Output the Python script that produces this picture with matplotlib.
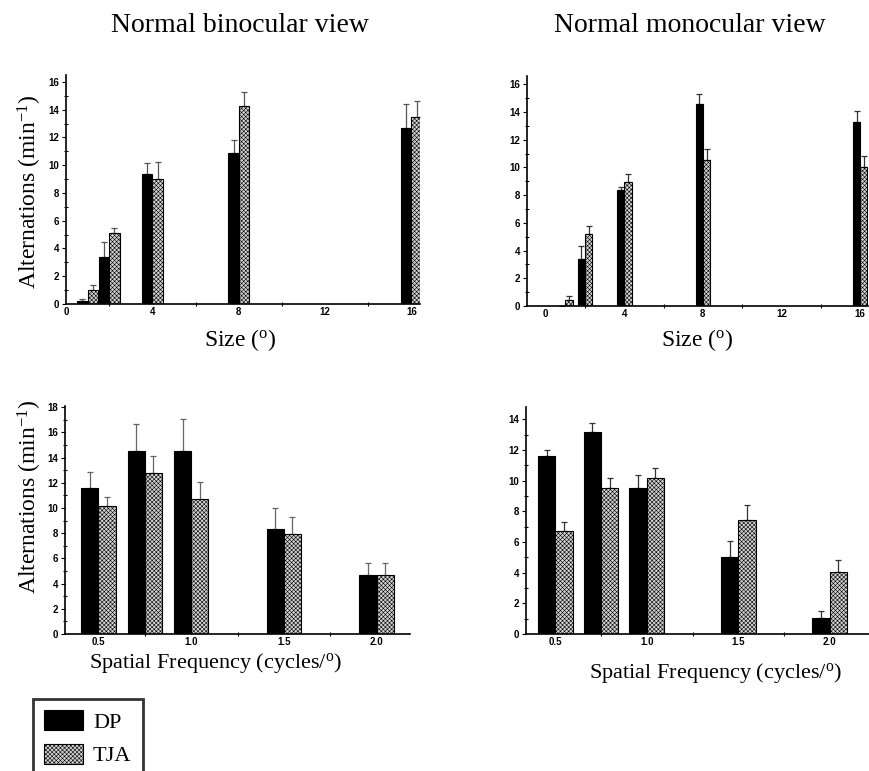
import matplotlib
matplotlib.use("Agg")
import matplotlib.pyplot as plt
from matplotlib.patches import Patch
from matplotlib.ticker import MultipleLocator, FormatStrFormatter

plt.rcParams["mathtext.default"] = "regular"
plt.rcParams["hatch.color"] = "#8c8c8c"
plt.rcParams["hatch.linewidth"] = 0.4

SERIF = "Liberation Serif"
SANS = "Liberation Sans"

# Datos: tamaño del estímulo (grados)
sizes = [1, 2, 4, 8, 16]
bino_dp = [0.2, 3.4, 9.35, 10.9, 12.65]
bino_dp_err = [0.18, 1.05, 0.8, 0.9, 1.75]
bino_tja = [1.0, 5.15, 9.0, 14.3, 13.45]
bino_tja_err = [0.35, 0.3, 1.2, 1.0, 1.2]

mono_dp = [0.0, 3.4, 8.4, 14.55, 13.3]
mono_dp_err = [0.0, 0.9, 0.2, 0.75, 0.8]
mono_tja = [0.4, 5.2, 8.95, 10.55, 10.05]
mono_tja_err = [0.3, 0.6, 0.6, 0.8, 0.75]

# Datos: frecuencia espacial (ciclos/grado)
freqs = [0.5, 0.75, 1.0, 1.5, 2.0]
bino_sf_dp = [11.6, 14.55, 14.55, 8.3, 4.7]
bino_sf_dp_err = [1.3, 2.15, 2.55, 1.7, 0.95]
bino_sf_tja = [10.15, 12.75, 10.7, 7.9, 4.65]
bino_sf_tja_err = [0.75, 1.35, 1.35, 1.35, 0.95]

mono_sf_dp = [11.6, 13.15, 9.55, 5.05, 1.05]
mono_sf_dp_err = [0.4, 0.6, 0.8, 1.0, 0.45]
mono_sf_tja = [6.7, 9.55, 10.15, 7.45, 4.05]
mono_sf_tja_err = [0.6, 0.65, 0.65, 0.95, 0.75]

DP_COLOR = "black"
TJA_COLOR = "#d2d2d2"
TJA_HATCH = "xxxxxxxx"


# Dibuja un par de barras DP / TJA con barras de error solo hacia arriba
def barras(ax, x, dp, dp_err, tja, tja_err, ancho, err_color):
    x_dp = [v - ancho / 2 for v in x]
    x_tja = [v + ancho / 2 for v in x]
    ax.bar(x_dp, dp, width=ancho, color=DP_COLOR, edgecolor="black", linewidth=0.8, zorder=2)
    ax.bar(x_tja, tja, width=ancho, color=TJA_COLOR, edgecolor="black", linewidth=0.8,
           hatch=TJA_HATCH, zorder=2)
    ax.errorbar(x_dp, dp, yerr=[[0] * len(dp), dp_err], fmt="none", ecolor=err_color,
                elinewidth=0.9, capsize=2.5, capthick=0.9, zorder=1)
    ax.errorbar(x_tja, tja, yerr=[[0] * len(tja), tja_err], fmt="none", ecolor=err_color,
                elinewidth=0.9, capsize=2.5, capthick=0.9, zorder=1)


# Estilo común de ejes
def estilo(ax, xmaj, xmin, ymaj, ymin):
    for lado in ["top", "right"]:
        ax.spines[lado].set_visible(False)
    for lado in ["left", "bottom"]:
        ax.spines[lado].set_linewidth(1.2)
    ax.xaxis.set_major_locator(MultipleLocator(xmaj))
    ax.xaxis.set_minor_locator(MultipleLocator(xmin))
    ax.yaxis.set_major_locator(MultipleLocator(ymaj))
    ax.yaxis.set_minor_locator(MultipleLocator(ymin))
    ax.tick_params(which="major", length=3, width=0.8, direction="out", pad=2)
    ax.tick_params(which="minor", length=3, width=0.8, direction="inout")
    ax.tick_params(axis="x", which="major", length=0)
    for t in ax.get_xticklabels() + ax.get_yticklabels():
        t.set_fontfamily(SANS)
        t.set_fontweight("bold")
        t.set_fontsize(7)


fig = plt.figure(figsize=(8.7, 7.71), dpi=100)
W, H = 870, 771


def eje(x0, x1, y_top, y_bot):
    return fig.add_axes([x0 / W, 1 - y_bot / H, (x1 - x0) / W, (y_bot - y_top) / H])


ax1 = eje(66, 420, 75, 304)
ax2 = eje(527, 868, 76, 306)
ax3 = eje(65, 410, 406, 634)
ax4 = eje(526, 870, 407, 634)

barras(ax1, sizes, bino_dp, bino_dp_err, bino_tja, bino_tja_err, 0.48, "#555555")
ax1.set_xlim(0, 16.4)
ax1.set_ylim(0, 16.5)
estilo(ax1, 4, 2, 2, 1)

barras(ax2, sizes, mono_dp, mono_dp_err, mono_tja, mono_tja_err, 0.37, "#333333")
ax2.set_xlim(-0.95, 16.4)
ax2.set_ylim(0, 16.6)
estilo(ax2, 4, 2, 2, 1)

barras(ax3, freqs, bino_sf_dp, bino_sf_dp_err, bino_sf_tja, bino_sf_tja_err, 0.093, "#666666")
ax3.set_xlim(0.32, 2.18)
ax3.set_ylim(0, 18.1)
estilo(ax3, 0.5, 0.25, 2, 1)
ax3.xaxis.set_major_formatter(FormatStrFormatter("%.1f"))

barras(ax4, freqs, mono_sf_dp, mono_sf_dp_err, mono_sf_tja, mono_sf_tja_err, 0.095, "#333333")
ax4.set_xlim(0.34, 2.22)
ax4.set_ylim(0, 14.8)
estilo(ax4, 0.5, 0.25, 2, 1)
ax4.xaxis.set_major_formatter(FormatStrFormatter("%.1f"))

for ax in [ax3, ax4]:
    for t in ax.get_xticklabels():
        t.set_fontfamily(SANS)
        t.set_fontweight("bold")
        t.set_fontsize(7)

# Títulos y etiquetas
fig.text(240 / W, 1 - 25 / H, "Normal binocular view", fontsize=20, family=SERIF,
         ha="center", va="center")
fig.text(690 / W, 1 - 25 / H, "Normal monocular view", fontsize=20, family=SERIF,
         ha="center", va="center")

fig.text(240 / W, 1 - 340 / H, "Size ($^{o}$)", fontsize=17, family=SERIF,
         ha="center", va="center")
fig.text(697 / W, 1 - 340 / H, "Size ($^{o}$)", fontsize=17, family=SERIF,
         ha="center", va="center")

fig.text(215 / W, 1 - 663 / H, "Spatial Frequency (cycles/$^{o}$)", fontsize=16,
         family=SERIF, ha="center", va="center")
fig.text(715 / W, 1 - 673 / H, "Spatial Frequency (cycles/$^{o}$)", fontsize=16,
         family=SERIF, ha="center", va="center")

fig.text(30 / W, 1 - 192 / H, "Alternations (min$^{-1}$)", fontsize=17, family=SERIF,
         rotation=90, ha="center", va="center")
fig.text(30 / W, 1 - 497 / H, "Alternations (min$^{-1}$)", fontsize=17, family=SERIF,
         rotation=90, ha="center", va="center")

# Leyenda (la caja queda cortada por el borde inferior, como en el original)
handles = [
    Patch(facecolor=DP_COLOR, edgecolor="black", linewidth=0.8),
    Patch(facecolor=TJA_COLOR, edgecolor="black", linewidth=0.8, hatch=TJA_HATCH),
]
leg = fig.legend(handles, ["DP", "TJA"], loc="upper left",
                 bbox_to_anchor=(33 / W, 1 - 699 / H), prop={"family": SERIF, "size": 16},
                 frameon=True, fancybox=False, handlelength=1.75, handleheight=1.0,
                 handletextpad=0.45, borderpad=0.5, labelspacing=0.5, borderaxespad=0)
leg.get_frame().set_edgecolor("black")
leg.get_frame().set_linewidth(2)

fig.savefig("out.png", dpi=100)
